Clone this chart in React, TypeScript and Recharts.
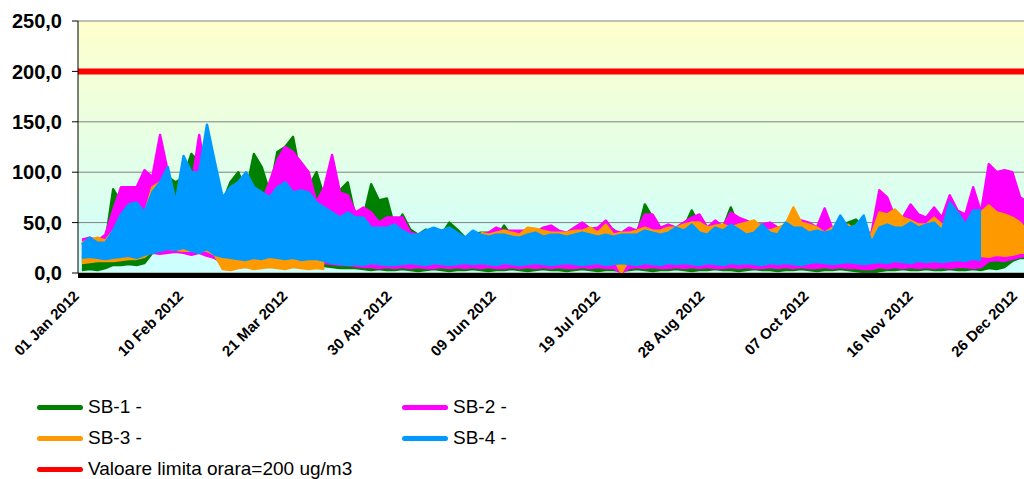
import { ComposedChart, Area, XAxis, YAxis, CartesianGrid, ReferenceLine } from 'recharts'

// 3-day periods from 01 Jan 2012: highest and lowest hourly value read in each
const SB1_HI = [
  28, 30, 30, 30, 83, 70, 80, 70, 75, 85,
  90, 95, 90, 95, 118, 110, 90, 70, 70, 90,
  100, 80, 118, 105, 80, 120, 125, 135, 95, 85,
  100, 75, 70, 82, 90, 55, 55, 88, 72, 74,
  45, 58, 43, 38, 43, 40, 38, 50, 43, 35,
  38, 40, 40, 35, 47, 36, 38, 40, 38, 38,
  45, 38, 35, 40, 38, 36, 40, 38, 43, 35,
  38, 38, 68, 55, 40, 42, 45, 45, 62, 48,
  42, 45, 45, 65, 45, 45, 45, 42, 45, 42,
  45, 48, 45, 42, 40, 45, 42, 45, 50, 53,
  45, 35, 50, 50, 45, 48, 45, 42, 45, 48,
  42, 55, 50, 48, 55, 55, 50, 55, 50, 55,
  60, 65,
]
const SB1_LO = [
  3, 4, 3, 5, 8, 8, 9, 8, 10, 20,
  22, 22, 24, 22, 20, 22, 18, 15, 10, 9,
  8, 9, 8, 10, 9, 8, 9, 10, 8, 9,
  8, 7, 6, 5, 5, 5, 4, 3, 4, 3,
  3, 4, 3, 2, 3, 4, 3, 2, 3, 3,
  4, 3, 2, 3, 3, 4, 3, 2, 3, 4,
  3, 3, 2, 3, 4, 3, 2, 3, 3, 2,
  3, 4, 3, 2, 3, 3, 4, 3, 2, 3,
  3, 4, 3, 3, 2, 3, 4, 3, 3, 2,
  3, 3, 4, 3, 2, 3, 3, 4, 3, 2,
  1, 0, 2, 3, 3, 4, 3, 3, 4, 3,
  3, 4, 3, 3, 4, 3, 5, 4, 6, 12,
  15, 15,
]
const SB2_HI = [
  33, 35, 32, 38, 62, 85, 85, 85, 102, 95,
  137, 100, 60, 80, 85, 137, 90, 80, 60, 70,
  80, 85, 70, 70, 90, 112, 125, 120, 110, 100,
  70, 85, 117, 80, 77, 60, 65, 60, 50, 55,
  55, 55, 40, 38, 38, 40, 38, 36, 38, 35,
  40, 38, 40, 45, 42, 42, 42, 42, 40, 45,
  47, 42, 40, 45, 50, 44, 45, 52, 42, 40,
  45, 42, 58, 58, 45, 48, 45, 50, 55, 58,
  45, 52, 46, 60, 55, 52, 48, 48, 50, 45,
  46, 55, 52, 50, 45, 64, 44, 50, 46, 45,
  40, 40, 82, 75, 55, 55, 68, 58, 55, 65,
  55, 77, 62, 58, 85, 60, 108, 100, 102, 100,
  75, 70,
]
const SB2_LO = [
  12, 12, 13, 12, 14, 15, 15, 16, 18, 20,
  19, 20, 21, 20, 18, 20, 17, 15, 12, 12,
  13, 12, 12, 13, 12, 12, 13, 12, 12, 11,
  10, 10, 9, 8, 8, 7, 6, 6, 5, 6,
  5, 6, 5, 6, 5, 5, 6, 5, 6, 5,
  6, 5, 6, 5, 5, 6, 5, 6, 5, 6,
  5, 6, 5, 5, 6, 5, 6, 5, 5, 0,
  5, 6, 5, 6, 5, 5, 6, 5, 6, 5,
  6, 5, 5, 6, 5, 6, 5, 5, 6, 5,
  6, 5, 6, 5, 5, 6, 5, 6, 5, 5,
  4, 4, 6, 5, 6, 5, 6, 5, 6, 5,
  6, 5, 6, 6, 5, 6, 12, 13, 12, 14,
  16, 18,
]
const SB3_HI = [
  30, 33, 35, 32, 42, 45, 52, 55, 58, 85,
  90, 75, 70, 65, 70, 60, 55, 45, 25, 25,
  24, 26, 25, 24, 25, 26, 25, 24, 25, 24,
  25, 24, null, null, null, null, null, null, null, null,
  null, null, null, null, null, null, null, null, null, null,
  null, 40, 38, 40, 42, 40, 38, 45, 44, 42,
  40, 40, 40, 42, 42, 45, 40, 48, 38, 40,
  40, 42, 45, 42, 42, 45, 45, 48, 50, 50,
  45, 47, 48, 45, 48, 50, 52, 45, 42, 45,
  48, 65, 50, 48, 45, 40, 45, 45, 48, 42,
  42, 38, 60, 58, 63, 55, 52, 48, 48, 55,
  48, 50, 48, 45, 50, 60, 67, 60, 58, 55,
  50, 40,
]
const SB3_LO = [
  10, 11, 12, 12, 12, 13, 14, 14, 16, 22,
  25, 24, 23, 22, 22, 22, 22, 18, 4, 3,
  5, 6, 4, 5, 6, 5, 4, 6, 5, 4,
  5, 4, null, null, null, null, null, null, null, null,
  null, null, null, null, null, null, null, null, null, null,
  null, 15, 14, 15, 16, 14, 15, 16, 15, 14,
  15, 16, 14, 15, 15, 16, 14, 15, 15, 0,
  14, 15, 16, 15, 14, 15, 16, 15, 14, 15,
  16, 15, 14, 15, 16, 15, 14, 15, 16, 15,
  14, 15, 16, 15, 14, 15, 16, 15, 14, 15,
  15, 14, 16, 15, 16, 15, 16, 15, 16, 15,
  16, 15, 16, 15, 16, 17, 16, 18, 17, 18,
  20, 20,
]
const SB4_HI = [
  28, 35, 30, 30, 42, 58, 68, 70, 60, 80,
  90, 105, 70, 116, 100, 100, 147, 110, 75, 85,
  90, 100, 85, 80, 75, 85, 90, 80, 82, 80,
  70, 65, 60, 55, 60, 55, 55, 45, 45, 45,
  48, 42, 38, 38, 42, 45, 42, 45, 40, 35,
  42, 38, 36, 38, 38, 36, 35, 38, 40, 36,
  38, 38, 36, 38, 40, 38, 36, 38, 36, 38,
  38, 38, 42, 40, 38, 40, 45, 42, 48, 40,
  38, 45, 42, 48, 43, 38, 40, 48, 40, 38,
  50, 45, 45, 40, 42, 40, 42, 57, 45, 47,
  57, 30, 45, 48, 45, 45, 50, 45, 48, 50,
  42, 70, 60, 48, 62, 62, null, null, null, null,
  null, null,
]
const SB4_LO = [
  15, 16, 15, 14, 15, 16, 17, 15, 18, 20,
  22, 24, 23, 25, 22, 20, 24, 18, 16, 15,
  14, 13, 15, 14, 16, 15, 14, 15, 13, 14,
  14, 12, 10, 9, 8, 9, 8, 10, 9, 8,
  8, 9, 10, 9, 8, 10, 9, 8, 9, 10,
  9, 10, 9, 8, 10, 9, 8, 9, 10, 9,
  8, 9, 10, 9, 8, 9, 10, 8, 9, 10,
  9, 8, 10, 9, 8, 10, 9, 10, 9, 8,
  10, 9, 8, 10, 9, 10, 9, 8, 10, 9,
  10, 9, 8, 10, 11, 10, 9, 10, 11, 10,
  9, 10, 11, 10, 12, 11, 10, 12, 11, 12,
  11, 12, 13, 12, 14, 13, null, null, null, null,
  null, null,
]

const LIMIT = 200
const X_TICKS = [0, 40, 80, 120, 160, 200, 240, 280, 320, 360]
const X_LABELS = [
  '01 Jan 2012', '10 Feb 2012', '21 Mar 2012', '30 Apr 2012', '09 Jun 2012',
  '19 Jul 2012', '28 Aug 2012', '07 Oct 2012', '16 Nov 2012', '26 Dec 2012',
]
const Y_TICKS = [0, 50, 100, 150, 200, 250]

const SERIES = [
  { key: 'sb1', name: 'SB-1 -', color: '#008000', hi: SB1_HI, lo: SB1_LO },
  { key: 'sb2', name: 'SB-2 -', color: '#FF00FF', hi: SB2_HI, lo: SB2_LO },
  { key: 'sb3', name: 'SB-3 -', color: '#FF9900', hi: SB3_HI, lo: SB3_LO },
  { key: 'sb4', name: 'SB-4 -', color: '#0099FF', hi: SB4_HI, lo: SB4_LO },
]

// each period becomes a [low, high] band centred on its middle day
const data = SB1_HI.map((_, k) =>
  Object.fromEntries([
    ['day', k * 3 + 1.5],
    ...SERIES.map((s) => [s.key, s.lo[k] == null || s.hi[k] == null ? null : [s.lo[k], s.hi[k]]]),
  ]),
)

const font = '"Liberation Sans", Arial, sans-serif'

function DateTick({ x, y, payload }: any) {
  const i = X_TICKS.indexOf(payload.value)
  return (
    <g transform={`translate(${x + 2},${y + 16})`}>
      <text
        x={0}
        y={0}
        textAnchor="end"
        transform="rotate(-45)"
        fontFamily={font}
        fontWeight="bold"
        fontSize={15}
        fill="#000"
      >
        {X_LABELS[i]}
      </text>
    </g>
  )
}

const LEGEND = [
  { name: 'SB-1 -', color: '#008000', left: 37, top: 407 },
  { name: 'SB-2 -', color: '#FF00FF', left: 402, top: 407 },
  { name: 'SB-3 -', color: '#FF9900', left: 37, top: 438 },
  { name: 'SB-4 -', color: '#0099FF', left: 402, top: 438 },
  { name: 'Valoare limita orara=200 ug/m3', color: '#FF0000', left: 37, top: 469 },
]

export default function App() {
  return (
    <div style={{ position: 'absolute', left: 0, top: 0, width: 1024, height: 479, background: '#fff', overflow: 'hidden' }}>
      <ComposedChart
        width={1024}
        height={479}
        data={data}
        margin={{ top: 21, right: 0, bottom: 106, left: 0 }}
      >
        <defs>
          <linearGradient id="plotBg" x1="0" y1="0" x2="0" y2="1">
            <stop offset="0%" stopColor="#FFFFCC" />
            <stop offset="100%" stopColor="#CCFFFF" />
          </linearGradient>
        </defs>
        <CartesianGrid vertical={false} stroke="#808080" fill="url(#plotBg)" fillOpacity={1} />
        <XAxis
          dataKey="day"
          type="number"
          domain={[0, 363]}
          allowDataOverflow
          ticks={X_TICKS}
          interval={0}
          height={100}
          tickLine={false}
          axisLine={{ stroke: '#000', strokeWidth: 5, transform: 'translate(0,2.5)' }}
          tick={<DateTick />}
        />
        <YAxis
          type="number"
          domain={[0, 250]}
          ticks={Y_TICKS}
          width={78}
          tickSize={6}
          tickMargin={10}
          axisLine={{ stroke: '#000' }}
          tickLine={{ stroke: '#000' }}
          tickFormatter={(v: number) => v.toFixed(1).replace('.', ',')}
          tick={{ fontFamily: font, fontWeight: 'bold', fontSize: 20, fill: '#000' }}
        />
        {SERIES.map((s) => (
          <Area
            key={s.key}
            type="linear"
            dataKey={s.key}
            name={s.name}
            stroke={s.color}
            strokeWidth={2.5}
            strokeLinejoin="round"
            fill={s.color}
            fillOpacity={1}
            isAnimationActive={false}
            dot={false}
            activeDot={false}
          />
        ))}
        <ReferenceLine y={LIMIT} stroke="#FF0000" strokeWidth={6} />
      </ComposedChart>
      {LEGEND.map((l) => (
        <div key={l.name} style={{ position: 'absolute', left: l.left, top: l.top - 12, height: 24, display: 'flex', alignItems: 'center', fontFamily: font, fontSize: 19, color: '#000', whiteSpace: 'nowrap' }}>
          <span style={{ display: 'inline-block', width: 46, height: 5, borderRadius: 3, background: l.color, marginRight: 5 }} />
          {l.name}
        </div>
      ))}
    </div>
  )
}
